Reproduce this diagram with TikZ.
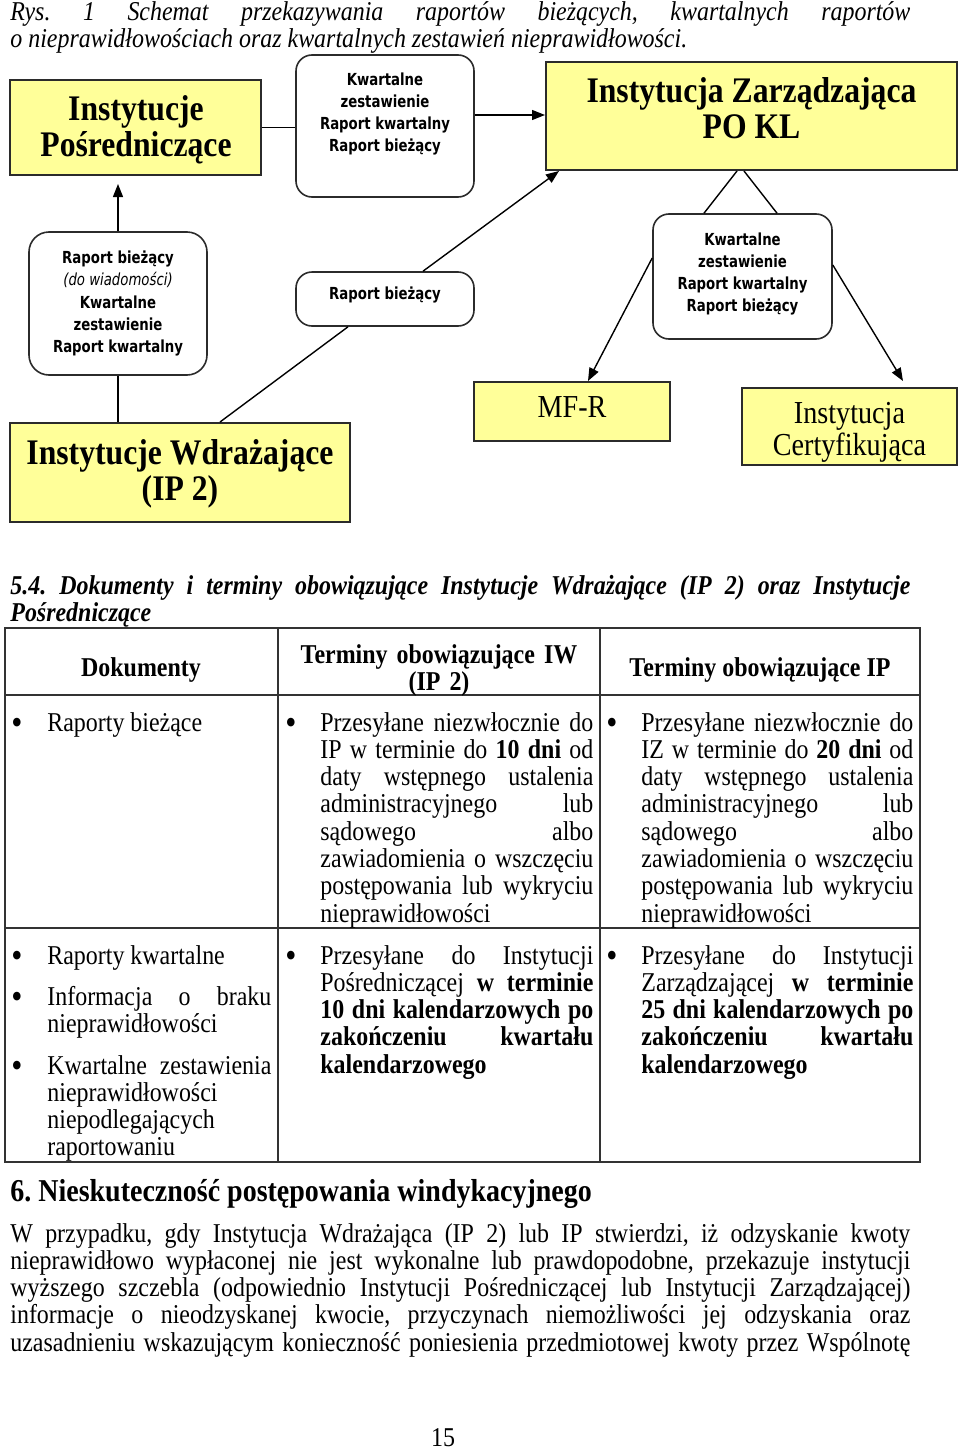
\documentclass[tikz,border=0pt]{standalone}
\usepackage{fontspec}
\setmainfont{Liberation Serif}[FakeStretch=0.88]
\newfontfamily\comicfont{DejaVu Sans}[FakeStretch=0.8]
\usetikzlibrary{arrows.meta}

\definecolor{boxyellow}{HTML}{FFFF99}
\definecolor{boxline}{HTML}{2B2B2B}
\newcommand\fsz[2]{\fontsize{#1}{#2}\selectfont}
\hyphenpenalty=10000
\exhyphenpenalty=10000
\tolerance=9999
\frenchspacing

\begin{document}
\begin{tikzpicture}[
    x=.5pt, y=-.5pt,
    ybox/.style={
        draw=boxline, fill=boxyellow, line width=1pt, inner sep=0pt
    },
    rbox/.style={
        draw=boxline, fill=white, line width=.8pt, rounded corners=8pt, inner sep=0pt
    },
    big/.style={
        font=\fsz{18pt}{18pt}\bfseries, align=center, inner sep=0pt
    },
    mid/.style={
        font=\fsz{16pt}{16pt}, align=center, inner sep=0pt
    },
    comic/.style={
        font=\comicfont\fsz{8.3pt}{11.1pt}\bfseries, align=center, inner sep=0pt
    },
    arr/.style={
        -{Triangle[length=6.5pt, width=5pt]}, line width=.7pt
    },
    conn/.style={line width=.7pt},
    body/.style={
        font=\fsz{13.6pt}{13.65pt}, inner sep=0pt, anchor=base west, align=justify
    },
    bul/.style={
        font=\fsz{13.6pt}{13.65pt}, inner sep=0pt, anchor=base
    },
    dot/.style={
        font=\fsz{18pt}{18pt}, inner sep=0pt, anchor=base, yshift=-1.5pt
    },
    tabline/.style={draw=black!80, line width=.7pt},
]
    \useasboundingbox (0,0) rectangle (960,1451);
    \fill[white] (0,0) rectangle (960,1451);

    \node[body, text width=450pt, font=\fsz{13.6pt}{13.5pt}\itshape] (cap) at (10,20) {Rys.\ 1 Schemat przekazywania raportów bieżących, kwartalnych raportów\linebreak o nieprawidłowościach oraz kwartalnych zestawień nieprawidłowości.};

    % top row
    \node[ybox, minimum width=125.5pt, minimum height=47.5pt] (ip) at (135.5,127.5) {};
    \node[big] (ip-t) at (136,130) {Instytucje\\Pośredniczące};
    \node[rbox, minimum width=89pt, minimum height=71pt] (rt) at (385,126) {};
    \node[comic] (rt-t) at (385,114) {Kwartalne\\zestawienie\\Raport kwartalny\\Raport bieżący};
    \node[ybox, minimum width=205.5pt, minimum height=54pt] (iz) at (751.5,116) {};
    \node[big] (iz-t) at (751.5,108.5) {Instytucja Zarządzająca\\PO KL};

    % middle row
    \node[rbox, rounded corners=10pt, minimum width=89pt, minimum height=71.5pt] (lt) at (118,303.5) {};
    \node[comic] (lt-t) at (118,303.5) {Raport bieżący\\{\mdseries\itshape (do wiadomości)}\\Kwartalne\\zestawienie\\Raport kwartalny};
    \node[rbox, minimum width=89pt, minimum height=27pt] (md) at (385,299) {};
    \node[comic] (md-t) at (385,295) {Raport bieżący};
    \node[rbox, minimum width=89.5pt, minimum height=62.5pt] (rr) at (742.5,276.5) {};
    \node[comic] (rr-t) at (742.5,274) {Kwartalne\\zestawienie\\Raport kwartalny\\Raport bieżący};

    % bottom row
    \node[ybox, minimum width=170pt, minimum height=49.5pt] (iw) at (180,472.5) {};
    \node[big] (iw-t) at (180,474) {Instytucje Wdrażające\\(IP 2)};
    \node[ybox, minimum width=98pt, minimum height=29.5pt] (mf) at (572,411.5) {};
    \node[mid] (mf-t) at (572,407) {MF-R};
    \node[ybox, minimum width=107.5pt, minimum height=38.5pt] (ic) at (849.5,426.5) {};
    \node[mid] (ic-t) at (849.5,432) {Instytucja\\Certyfikująca};

    \draw[conn] (ip.east) -- (ip.east -| rt.west);
    \draw[arr] (rt.east |- 0,115) -- (iz.west |- 0,115);
    \draw[arr, shorten >=4pt] (lt.north) -- (lt.north |- ip.south);
    \draw[conn] (lt.south) -- (lt.south |- iw.north);
    \draw[conn] ([xshift=20pt]iw.north) -- ([xshift=-18.5pt]md.south);
    \draw[arr] ([xshift=19pt]md.north) -- ([xshift=7pt]iz.south west);
    \draw[conn] ([xshift=-7.25pt]iz.south) -- ([xshift=-19.25pt]rr.north);
    \draw[conn] ([xshift=-3.75pt]iz.south) -- ([xshift=17.25pt]rr.north);
    \draw[arr] ([yshift=9.25pt]rr.west) -- ([xshift=8pt]mf.north);
    \draw[arr] ([yshift=5.75pt]rr.east) -- ([xshift=26.75pt, yshift=3pt]ic.north);

    % table
    \node[body, text width=450pt, font=\fsz{13.6pt}{13.65pt}\bfseries\itshape] (h54) at (10,594) {5.4. Dokumenty i terminy obowiązujące Instytucje Wdrażające (IP 2) oraz Instytucje\linebreak Pośredniczące};

    \draw[tabline] (5,628) rectangle (920,1162);
    \draw[tabline] (278,628) -- (278,1162) (600,628) -- (600,1162);
    \draw[tabline] (5,695) -- (920,695) (5,928) -- (920,928);

    \node[bul, font=\fsz{13.6pt}{13.65pt}\bfseries] (hd1) at (141,676) {Dokumenty};
    \node[bul, text width=160pt, align=center, font=\fsz{13.6pt}{13.65pt}\bfseries] (hd2) at (439,663) {Terminy obowiązujące IW\\(IP 2)};
    \node[bul, font=\fsz{13.6pt}{13.65pt}\bfseries] (hd3) at (760,676) {Terminy obowiązujące IP};

    \foreach \x/\y [count=\i] in {17/731, 291/731, 612/731, 17/964, 17/1005, 17/1074, 291/964, 612/964}
        \node[dot] (b\i) at (\x,\y) {•};

    \node[body, text width=112pt] (c11) at (47,731) {Raporty bieżące};
    \node[body, text width=136.5pt] (c12) at (320,731) {Przesyłane niezwłocznie do\linebreak IP w terminie do \textbf{10 dni} od\linebreak daty wstępnego ustalenia\linebreak administracyjnego lub\linebreak sądowego albo\linebreak zawiadomienia o wszczęciu\linebreak postępowania lub wykryciu\linebreak nieprawidłowości};
    \node[body, text width=136pt] (c13) at (641,731) {Przesyłane niezwłocznie do\linebreak IZ w terminie do \textbf{20 dni} od\linebreak daty wstępnego ustalenia\linebreak administracyjnego lub\linebreak sądowego albo\linebreak zawiadomienia o wszczęciu\linebreak postępowania lub wykryciu\linebreak nieprawidłowości};

    \node[body, text width=112pt] (c21a) at (47,964) {Raporty kwartalne};
    \node[body, text width=112pt] (c21b) at (47,1005) {Informacja o braku\linebreak nieprawidłowości};
    \node[body, text width=112pt] (c21c) at (47,1074) {Kwartalne zestawienia\linebreak nieprawidłowości\\niepodlegających\\raportowaniu};
    \node[body, text width=136.5pt] (c22) at (320,964) {Przesyłane do Instytucji\linebreak Pośredniczącej \textbf{w terminie}\linebreak \textbf{10 dni kalendarzowych po}\linebreak \textbf{zakończeniu kwartału}\linebreak \textbf{kalendarzowego}};
    \node[body, text width=136pt] (c23) at (641,964) {Przesyłane do Instytucji\linebreak Zarządzającej \textbf{w terminie}\linebreak \textbf{25 dni kalendarzowych po}\linebreak \textbf{zakończeniu kwartału}\linebreak \textbf{kalendarzowego}};

    % section 6
    \node[body, text width=450pt, font=\fsz{15.9pt}{16pt}\bfseries] (h6) at (10,1201) {6. Nieskuteczność postępowania windykacyjnego};
    \node[body, text width=450pt] (txt) at (10,1242) {{\parfillskip=0pt W przypadku, gdy Instytucja Wdrażająca (IP 2) lub IP stwierdzi, iż odzyskanie kwoty\linebreak nieprawidłowo wypłaconej nie jest wykonalne lub prawdopodobne, przekazuje instytucji\linebreak wyższego szczebla (odpowiednio Instytucji Pośredniczącej lub Instytucji Zarządzającej)\linebreak informacje o nieodzyskanej kwocie, przyczynach niemożliwości jej odzyskania oraz\linebreak uzasadnieniu wskazującym konieczność poniesienia przedmiotowej kwoty przez Wspólnotę\par}};

    \node[bul] (pg) at (443,1446) {15};

\end{tikzpicture}
\end{document}
